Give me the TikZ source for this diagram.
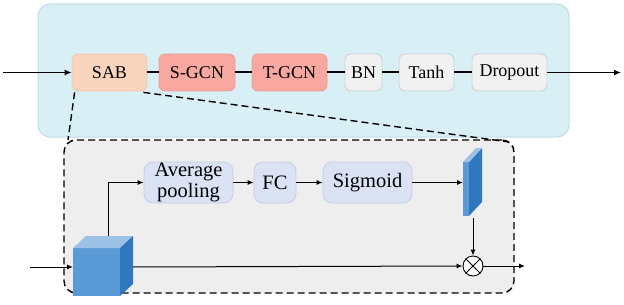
\documentclass[tikz,border=0pt]{standalone}
\usepackage{fontspec}
\setmainfont{Liberation Serif}
\usetikzlibrary{arrows.meta,shapes.misc}
\definecolor{cyanfill}{HTML}{D8F0F5}
\definecolor{cyanline}{HTML}{C2DCE3}
\definecolor{peach}{HTML}{F9D4BD}
\definecolor{peachline}{HTML}{EFC6AC}
\definecolor{salmon}{HTML}{F8A8A1}
\definecolor{salmonline}{HTML}{EC9B94}
\definecolor{lgray}{HTML}{F1F1F1}
\definecolor{lgrayline}{HTML}{CFCFCF}
\definecolor{panel}{HTML}{EFEEEE}
\definecolor{lblue}{HTML}{DAE2F3}
\definecolor{lblueline}{HTML}{C4CEE4}
\definecolor{cubefront}{HTML}{5A9AD6}
\definecolor{cubetop}{HTML}{9CC2E8}
\definecolor{cubeside}{HTML}{2F78C0}
\tikzset{
  x=1pt, y=-1pt,
  every node/.style={font=\fontsize{18}{22}\selectfont, text=black},
  blockbox/.style={draw, rounded corners=6pt, line width=0.8pt, minimum height=37pt, inner sep=0pt},
  sab/.style={blockbox, fill=peach, draw=peachline},
  gcn/.style={blockbox, fill=salmon, draw=salmonline},
  plain/.style={blockbox, fill=lgray, draw=lgrayline},
  seblock/.style={draw=lblueline, fill=lblue, rounded corners=9pt, line width=0.8pt, minimum height=41pt, inner sep=0pt, align=center, font=\fontsize{20.5}{21}\selectfont},
  thickconn/.style={line width=2pt, black},
  toparrow/.style={line width=1.3pt, black, -{Latex[length=7pt,width=6pt]}},
  lowarrow/.style={line width=1pt, black, -{Latex[length=6pt,width=5pt]}},
  dashline/.style={draw=black, line width=1.4pt, dash pattern=on 7pt off 4pt},
}
\begin{document}
\begin{tikzpicture}
\useasboundingbox (0,0) rectangle (624,305);
% outer cyan panel
\node[draw=cyanline, fill=cyanfill, line width=1pt, rounded corners=12pt, minimum width=531pt, minimum height=133pt, inner sep=0pt] (outer) at (303.5,70.5) {};
% lower dashed panel
\node[dashline, fill=panel, rounded corners=12pt, minimum width=450pt, minimum height=153pt, inner sep=0pt] (panel) at (289,216.5) {};

% top blocks
\node[sab, minimum width=75pt] (sab) at (109.5,72.5) {SAB};
\node[gcn, minimum width=76pt] (sgcn) at (197,72.5) {S-GCN};
\node[gcn, minimum width=75pt] (tgcn) at (289.5,72.5) {T-GCN};
\node[plain, minimum width=37pt] (bn) at (363.5,72.5) {BN};
\node[plain, minimum width=55pt] (tanh) at (426.5,72.5) {Tanh};
\node[plain, minimum width=75pt] (drop) at (509.5,72.5) {Dropout};

\coordinate (inL) at (3,72.5);
\coordinate (outR) at (621,72.5);
\draw[toparrow] (inL) -- (sab.west);
\draw[thickconn] (sab) -- (sgcn);
\draw[thickconn] (sgcn) -- (tgcn);
\draw[thickconn] (tgcn) -- (bn);
\draw[thickconn] (bn) -- (tanh);
\draw[thickconn] (tanh) -- (drop);
\draw[toparrow] (drop.east) -- (outR);

% zoom dashed lines
\coordinate (zl) at (68,140);
\coordinate (zr) at (509,142);
\draw[dashline] ([xshift=3pt,yshift=-1pt]sab.south west) -- (zl);
\draw[dashline] ([xshift=-4pt,yshift=-1pt]sab.south east) -- (zr);

% SE blocks
\node[seblock, minimum width=89pt] (avg) at (188.5,182.5) {Average\\pooling};
\node[seblock, minimum width=42pt] (fc) at (275,182.5) {FC};
\node[seblock, minimum width=89pt] (sig) at (367.5,182.5) {Sigmoid};

% cube
\fill[cubefront] (73,248) rectangle (120,296);
\fill[cubetop] (73,248) -- (86,236) -- (133,236) -- (120,248) -- cycle;
\fill[cubeside] (120,248) -- (133,236) -- (133,284) -- (120,296) -- cycle;
\coordinate (cubeIn) at (73,267);
\coordinate (cubeTop) at (108,236);
\coordinate (cubeOut) at (133,267);
\coordinate (lowIn) at (30,267);

% thin bar
\fill[cubefront] (463,162) rectangle (469,216);
\fill[cubeside] (469,162) -- (482,148) -- (482,202) -- (469,216) -- cycle;
\fill[cubetop] (463,162) -- (476,148) -- (482,148) -- (469,162) -- cycle;
\coordinate (barIn) at (463,182.5);
\coordinate (barBot) at (473,218);

% otimes
\node[draw, fill=white, circle, line width=0.9pt, minimum size=20pt, inner sep=0pt] (mul) at (473,266) {};
\draw[line width=0.9pt] (mul.north west) -- (mul.south east);
\draw[line width=0.9pt] (mul.north east) -- (mul.south west);
\coordinate (lowOut) at (525,266);

% lower arrows
\draw[lowarrow] (lowIn) -- (cubeIn);
\draw[lowarrow] (cubeTop) |- (avg.west);
\draw[lowarrow] (avg) -- (fc);
\draw[lowarrow] (fc) -- (sig);
\draw[lowarrow] (sig.east) -- (barIn);
\draw[lowarrow] (barBot) -- (mul.north);
\draw[lowarrow] (cubeOut) -- (mul.west);
\draw[lowarrow] (mul.east) -- (lowOut);
\end{tikzpicture}
\end{document}
